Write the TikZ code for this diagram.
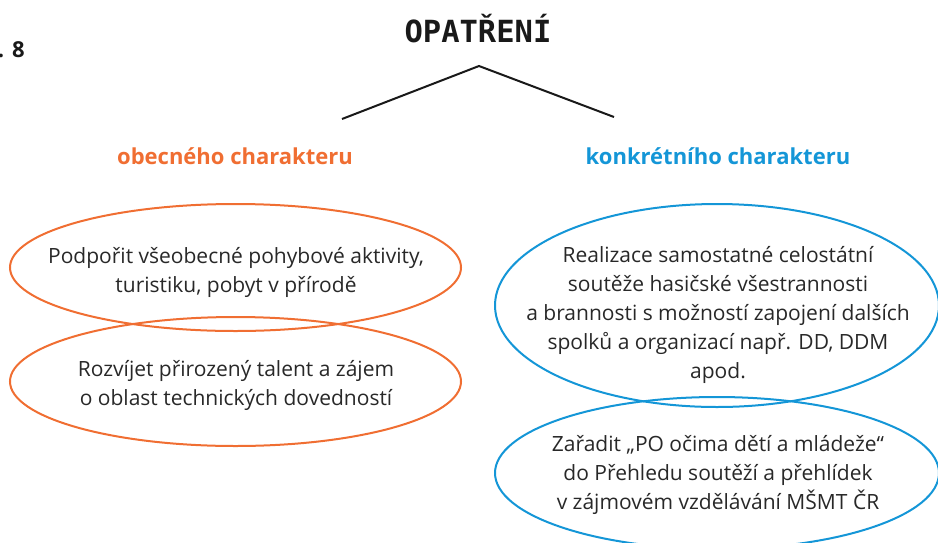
\documentclass[tikz,border=0pt]{standalone}
\usepackage{fontspec}
\setmainfont{Open Sans}
\newfontfamily\monofnt{DejaVu Sans Mono}
\newfontfamily\headfnt{Open Sans}
\usetikzlibrary{shapes.geometric}
\definecolor{orng}{RGB}{240,110,50}
\definecolor{blu}{RGB}{20,150,215}
\definecolor{txt}{RGB}{40,40,40}
\tikzset{
  oval/.style={draw, ellipse, line width=2pt, inner sep=0pt},
  ovalO/.style={oval, draw=orng},
  ovalB/.style={oval, draw=blu},
  body/.style={align=center, inner sep=0pt, text=txt, font=\fontsize{21}{29}\selectfont},
  sub/.style={anchor=base, inner sep=0pt, font=\headfnt\bfseries\fontsize{22}{24}\selectfont},
  branch/.style={line width=2pt, line cap=butt, line join=miter, draw=black!90}
}
\begin{document}
\begin{tikzpicture}[x=1pt,y=-1pt]
\useasboundingbox (0,0) rectangle (938,542);
\node[anchor=base east, inner sep=0pt, font=\headfnt\bfseries\fontsize{22}{24}\selectfont, text=black!90] (fig) at (25,57) {.\hspace{8pt}8};
\node[anchor=base, inner sep=0pt, font=\monofnt\bfseries\fontsize{30.5}{32}\selectfont, text=black!90] (title) at (478,42) {OPATŘENÍ};
\coordinate (apex) at (479,66);
\coordinate (lend) at (342,119);
\coordinate (rend) at (614,117);
\draw[branch] (lend) -- (apex) -- (rend);
\node[sub, text=orng] (obec) at (235,164) {obecného charakteru};
\node[sub, text=blu] (konk) at (718,164) {konkrétního charakteru};
% ellipses
\node[ovalO, minimum width=451pt, minimum height=127pt] (e1) at (235.5,267.5) {};
\node[ovalO, minimum width=451pt, minimum height=129pt] (e2) at (235.5,381.5) {};
\node[ovalB, minimum width=444pt, minimum height=203pt] (e3) at (717,305.5) {};
\node[ovalB, minimum width=444pt, minimum height=152pt] (e4) at (717,473) {};
% texts
\node[body] (t1) at (236,272) {Podpořit všeobecné pohybové aktivity,\\turistiku, pobyt v přírodě};
\node[body] (t2) at (236,385) {Rozvíjet přirozený talent a zájem\\o oblast technických dovedností};
\node[body] (t3) at (718,315) {Realizace samostatné celostátní\\soutěže hasičské všestrannosti\\a brannosti s možností zapojení dalších\\spolků a organizací např. DD, DDM\\apod.};
\node[body] (t4) at (718,475) {Zařadit „PO očima dětí a mládeže“\\do Přehledu soutěží a přehlídek\\v zájmovém vzdělávání MŠMT ČR};
\end{tikzpicture}
\end{document}
